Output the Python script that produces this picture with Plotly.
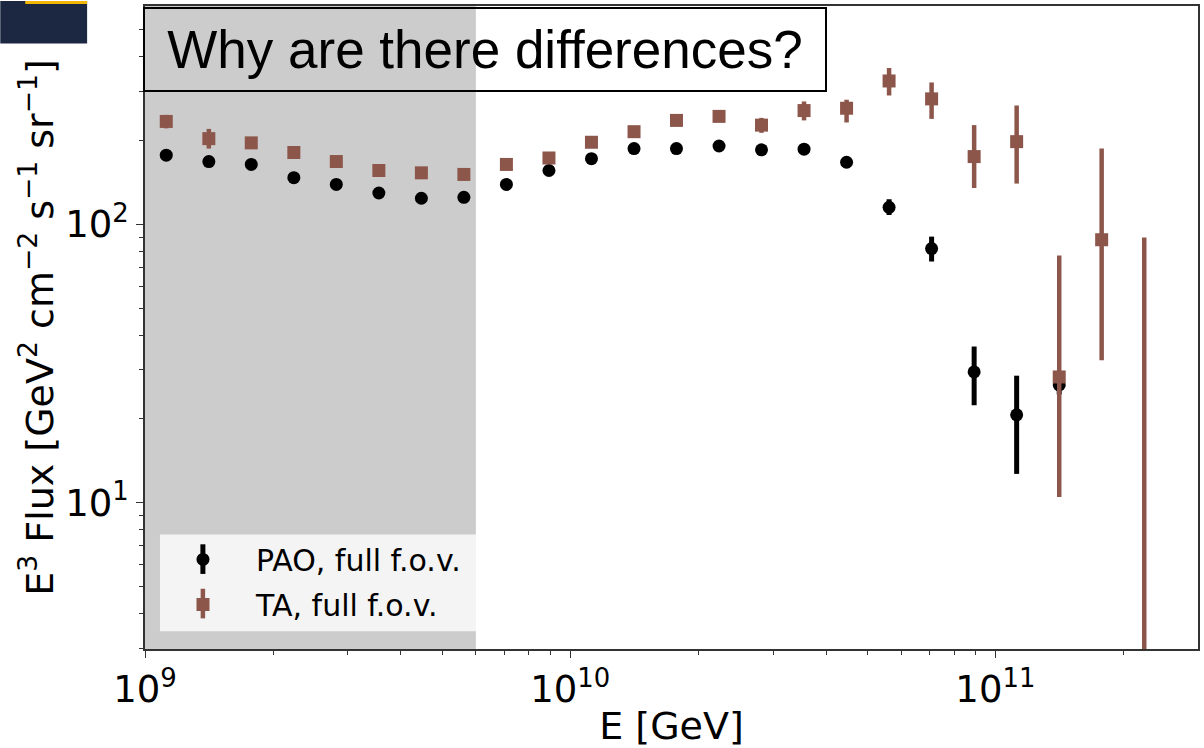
import plotly.graph_objects as go

# ---- data ----
energy_gev = [1.122e9, 1.413e9, 1.778e9, 2.239e9, 2.818e9, 3.548e9, 4.467e9, 5.623e9,
              7.079e9, 8.913e9, 1.122e10, 1.413e10, 1.778e10, 2.239e10, 2.818e10, 3.548e10,
              4.467e10, 5.623e10, 7.079e10, 8.913e10, 1.122e11, 1.413e11, 1.778e11, 2.239e11]

pao_flux = [177, 168, 164, 147, 139, 129.5, 124, 125, 139, 156, 172, 187,
            187, 191, 185, 186, 167, 115, 81.8, 29.5, 20.7, 26.5]
pao_err_up = [3, 3, 3, 3, 3, 3, 3, 3, 3, 3, 4, 4, 4, 5, 5, 5, 6, 8, 8.5, 6.9, 7.9, 2]
pao_err_dn = [3, 3, 3, 3, 3, 3, 3, 3, 3, 3, 4, 4, 4, 5, 5, 5, 6, 7, 8.3, 7.1, 8.0, 2]

ta_flux = [234, 203, 196, 181, 168, 156, 153, 151, 164, 173, 197, 215,
           236, 244, 227, 256, 261, 327, 282, 175, 198, 28.3, 88, 1.0]
ta_err_up = [13, 17, 5, 5, 5, 4, 4, 4, 4, 5, 5, 6, 7, 8, 14, 20, 19, 37, 41, 52, 69, 49, 99, 88.6]
ta_err_dn = [13, 16, 5, 5, 5, 4, 4, 4, 4, 5, 5, 6, 7, 8, 14, 20, 29, 37, 43, 40, 58, 17.8, 55.5, 0.5]

shade_range = [1e9, 6e9]
x_major = [1e9, 1e10, 1e11]
x_major_text = ["10<sup>9</sup>", "10<sup>10</sup>", "10<sup>11</sup>"]
x_minor = [2e9, 3e9, 4e9, 5e9, 6e9, 7e9, 8e9, 9e9,
           2e10, 3e10, 4e10, 5e10, 6e10, 7e10, 8e10, 9e10, 2e11, 3e11]
y_major = [10, 100]
y_major_text = ["10<sup>1</sup>", "10<sup>2</sup>"]
y_minor = [3, 4, 5, 6, 7, 8, 9, 20, 30, 40, 50, 60, 70, 80, 90, 200, 300, 400, 500]

pao_color = "#000000"
ta_color = "#8c564b"

fig = go.Figure()

fig.add_trace(go.Scatter(
    x=energy_gev[:len(pao_flux)], y=pao_flux, mode="markers",
    name="PAO, full f.o.v.", legendgroup="pao",
    marker=dict(symbol="circle", size=13, color=pao_color),
    error_y=dict(type="data", symmetric=False, array=pao_err_up, arrayminus=pao_err_dn,
                 thickness=5, width=0, color=pao_color),
))
fig.add_trace(go.Scatter(
    x=energy_gev, y=ta_flux, mode="markers",
    name="TA, full f.o.v.", legendgroup="ta",
    marker=dict(symbol="square", size=13, color=ta_color),
    error_y=dict(type="data", symmetric=False, array=ta_err_up, arrayminus=ta_err_dn,
                 thickness=4.5, width=0, color=ta_color),
))

W, H = 1204, 748
L, R, T, B = 145, 4, 5, 92
pw, ph = W - L - R, H - T - B

def px_x(p):
    return (p - L) / pw

def px_y(p):
    return (H - B - p) / ph

LEG_MARK_X = 203
LEG_ITEM_W = 96
shapes = [
    # shaded energy band
    dict(type="rect", xref="x", yref="paper", x0=shade_range[0], x1=shade_range[1],
         y0=0, y1=1, fillcolor="#cccccc", line=dict(width=0), layer="below"),
    # legend background panel
    dict(type="rect", xref="paper", yref="paper", x0=px_x(160), x1=px_x(478),
         y0=px_y(638), y1=px_y(540), fillcolor="rgba(255,255,255,0.78)", line=dict(width=0)),
    # legend error-bar glyphs
    dict(type="line", xref="paper", yref="paper", x0=px_x(LEG_MARK_X), x1=px_x(LEG_MARK_X),
         y0=px_y(580), y1=px_y(550), line=dict(color=pao_color, width=5)),
    dict(type="line", xref="paper", yref="paper", x0=px_x(LEG_MARK_X), x1=px_x(LEG_MARK_X),
         y0=px_y(625), y1=px_y(595), line=dict(color=ta_color, width=4.5)),
    # slide logo corner
    dict(type="rect", xref="paper", yref="paper", x0=px_x(0), x1=px_x(87),
         y0=px_y(43), y1=px_y(0), line=dict(width=0), fillcolor="#1c2742"),
    dict(type="rect", xref="paper", yref="paper", x0=px_x(25), x1=px_x(87),
         y0=px_y(3), y1=px_y(0), line=dict(width=0), fillcolor="#f2b705"),
]

annotations = [
    dict(text="Why are there differences?", xref="paper", yref="paper",
         x=px_x(486), y=px_y(49.5), xanchor="center", yanchor="middle", showarrow=False,
         width=678, height=79, align="center", valign="middle",
         bordercolor="black", borderwidth=2, borderpad=1,
         font=dict(family="Liberation Sans, Arial", size=53, color="black")),
]

axis_font = dict(family="DejaVu Sans", size=37, color="black")
title_font = dict(family="DejaVu Sans", size=38, color="black")

fig.update_layout(
    width=W, height=H,
    margin=dict(l=L, r=R, t=T, b=B),
    paper_bgcolor="white", plot_bgcolor="white",
    showlegend=True,
    legend=dict(x=px_x(LEG_MARK_X - 5 - LEG_ITEM_W / 2), y=px_y(539), xanchor="left", yanchor="top",
                bgcolor="rgba(0,0,0,0)", borderwidth=0,
                font=dict(family="DejaVu Sans", size=30, color="black"),
                traceorder="grouped", tracegroupgap=3, itemwidth=LEG_ITEM_W),
    shapes=shapes,
    annotations=annotations,
    xaxis=dict(type="log", range=[9, 11.4765], showgrid=False, zeroline=False,
               showline=True, linecolor="#333333", linewidth=1.5, mirror=True,
               ticks="outside", ticklen=7, tickwidth=1.3, tickcolor="#333333",
               tickmode="array", tickvals=x_major, ticktext=x_major_text,
               tickfont=axis_font,
               minor=dict(ticks="outside", ticklen=4, tickwidth=1, tickcolor="#333333",
                          tickmode="array", tickvals=x_minor, showgrid=False),
               title=dict(text="E [GeV]", font=title_font, standoff=6)),
    yaxis=dict(type="log", range=[0.4751, 2.7837], showgrid=False, zeroline=False,
               showline=True, linecolor="#333333", linewidth=1.5, mirror=True,
               ticks="outside", ticklen=7, tickwidth=1.3, tickcolor="#333333",
               tickmode="array", tickvals=y_major, ticktext=y_major_text,
               tickfont=axis_font,
               minor=dict(ticks="outside", ticklen=4, tickwidth=1, tickcolor="#333333",
                          tickmode="array", tickvals=y_minor, showgrid=False),
               title=dict(text="E<sup>3</sup> Flux [GeV<sup>2</sup> cm<sup>−2</sup> s<sup>−1</sup> sr<sup>−1</sup>]",
                          font=title_font, standoff=0)),
)

fig.write_html("out.html")
